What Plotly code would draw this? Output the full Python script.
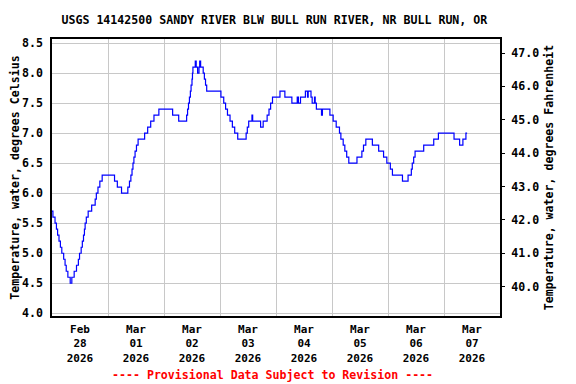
import pandas as pd
import plotly.graph_objects as go

# ---- data ----
start_time = "2026-02-28 00:00"
hours_since_start = [
    0, 0.4, 1.3, 1.9, 2.4, 3.0, 3.6, 4.2, 5.0, 5.6, 6.1, 6.8, 7.8,
    8.5, 9.5, 10.5, 11.3, 11.8, 12.5, 13.0, 13.5, 13.9, 14.2, 14.7, 15.5,
    17.0, 18.5, 19.0, 19.7, 20.5, 21.5, 26.8, 28.0, 29.8, 32.5, 33.2,
    33.8, 34.3, 34.7, 35.1, 35.6, 36.2, 36.9, 39.7, 41.0, 42.3, 43.7,
    45.8, 51.7, 54.3, 57.7, 58.1, 58.5, 58.9, 59.3, 59.6, 60.0, 60.2,
    60.4, 61.4, 61.8, 62.4, 63.0, 63.3, 63.7, 64.8, 65.3, 65.8, 66.3,
    72.4, 73.6, 74.4, 75.2, 76.3, 77.3, 78.3, 79.6, 83.2, 83.7, 84.3,
    85.7, 86.0, 89.4, 90.5, 92.2, 93.0, 93.7, 94.5, 97.7, 99.8, 102.8,
    105.1, 105.6, 106.5, 108.6, 109.5, 109.8, 111.0, 111.5, 112.5, 112.8,
    113.3, 115.5, 115.9, 119.1, 120.5, 121.8, 123.2, 123.8, 124.8, 125.5,
    126.3, 127.2, 130.7, 132.8, 133.5, 134.5, 137.3, 140.0, 142.1, 143.5,
    145.0, 145.9, 150.2, 152.6, 154.0, 154.4, 155.0, 155.6, 156.5, 159.3,
    163.6, 165.6, 172.3, 174.7, 176.1, 177.4, 177.9,
]
temperature_c = [
    5.7, 5.6, 5.5, 5.4, 5.3, 5.2, 5.1, 5.0, 4.9, 4.8, 4.7, 4.6, 4.5,
    4.6, 4.7, 4.8, 4.9, 5.0, 5.1, 5.2, 5.3, 5.4, 5.5, 5.6, 5.7,
    5.8, 5.9, 6.0, 6.1, 6.2, 6.3, 6.2, 6.1, 6.0, 6.1, 6.2,
    6.3, 6.4, 6.5, 6.6, 6.7, 6.8, 6.9, 7.0, 7.1, 7.2, 7.3,
    7.4, 7.3, 7.2, 7.3, 7.4, 7.5, 7.6, 7.7, 7.8, 7.9, 8.0,
    8.1, 8.2, 8.1, 8.0, 8.1, 8.2, 8.1, 8.0, 7.9, 7.8, 7.7,
    7.6, 7.5, 7.4, 7.3, 7.2, 7.1, 7.0, 6.9, 7.0, 7.1, 7.2,
    7.3, 7.2, 7.1, 7.2, 7.3, 7.4, 7.5, 7.6, 7.7, 7.6, 7.5,
    7.6, 7.5, 7.6, 7.7, 7.6, 7.7, 7.6, 7.5, 7.6, 7.5,
    7.4, 7.3, 7.4, 7.3, 7.2, 7.1, 7.0, 6.9, 6.8, 6.7,
    6.6, 6.5, 6.6, 6.7, 6.8, 6.9, 6.8, 6.7, 6.6, 6.5,
    6.4, 6.3, 6.2, 6.3, 6.4, 6.5, 6.6, 6.7, 6.7, 6.8,
    6.9, 7.0, 6.9, 6.8, 6.9, 7.0, 7.0,
]
day_labels = ["Feb<br>28<br>2026", "Mar<br>01<br>2026", "Mar<br>02<br>2026",
              "Mar<br>03<br>2026", "Mar<br>04<br>2026", "Mar<br>05<br>2026",
              "Mar<br>06<br>2026", "Mar<br>07<br>2026"]
celsius_range = [3.955, 8.567]
fahrenheit_ticks = [40, 41, 42, 43, 44, 45, 46, 47]

title_text = "USGS 14142500 SANDY RIVER BLW BULL RUN RIVER, NR BULL RUN, OR"
left_title = "Temperature, water, degrees Celsius"
right_title = "Temperature, water, degrees Fahrenheit"
footer_text = "---- Provisional Data Subject to Revision ----"

# ---- derived ----
t0 = pd.Timestamp(start_time)
times = t0 + pd.to_timedelta(hours_since_start, unit="h")
tick_pos = [t0 + pd.Timedelta(days=i, hours=12) for i in range(len(day_labels))]
x_range = [t0, t0 + pd.Timedelta(days=len(day_labels))]
f_range = [c * 1.8 + 32 for c in celsius_range]
temperature_f = [c * 1.8 + 32 for c in temperature_c]

FONT = "DejaVu Sans Mono"
fnt = dict(family=FONT, size=11.6, color="black", weight="bold")
xfnt = dict(family=FONT, size=11, color="black", weight="bold")

fig = go.Figure()
fig.add_trace(go.Scatter(x=times, y=temperature_c, mode="lines",
                         line=dict(color="#0000ff", width=1.2, shape="hv"),
                         showlegend=False, hoverinfo="skip"))
fig.add_trace(go.Scatter(x=times, y=temperature_f, mode="lines", yaxis="y2",
                         line=dict(color="rgba(0,0,0,0)", width=0, shape="hv"),
                         showlegend=False, hoverinfo="skip"))

# the page adds an 8px body margin, so the figure is 8px smaller and shifted
fig.update_layout(
    width=568, height=376,
    margin=dict(l=44, r=76, t=31, b=68, autoexpand=False),
    paper_bgcolor="white", plot_bgcolor="white",
    font=fnt,
    title=dict(text=title_text, x=0.469, xanchor="center", y=0.967,
               yanchor="middle", yref="container", font=fnt),
    xaxis=dict(
        range=x_range, tickmode="array", tickvals=tick_pos, ticktext=day_labels,
        showgrid=False, ticks="", tickfont=xfnt, ticklabelstandoff=2,
        showline=True, linecolor="black", linewidth=1.5, mirror=True,
        minor=dict(tick0=t0, dtick=86400000, showgrid=True,
                   gridcolor="#c8c8c8", gridwidth=1.3, ticks=""),
        zeroline=False, automargin=False,
    ),
    yaxis=dict(
        range=celsius_range, tickmode="linear", tick0=4.0, dtick=0.5,
        tickformat=".1f", showgrid=True, gridcolor="#c8c8c8", gridwidth=1.3,
        ticks="", ticklabelstandoff=5, tickfont=fnt,
        showline=True, linecolor="black", linewidth=1.5, mirror=True,
        zeroline=False, automargin=False,
        title=dict(text=left_title, font=fnt, standoff=6),
    ),
    yaxis2=dict(
        range=f_range, overlaying="y", side="right", tickmode="array",
        tickvals=fahrenheit_ticks, tickformat=".1f", showgrid=False,
        ticks="outside", ticklen=4, tickcolor="black", tickfont=fnt,
        ticklabelstandoff=4, zeroline=False, automargin=False,
        title=dict(text=right_title, font=fnt, standoff=6),
    ),
    annotations=[dict(text=footer_text, xref="paper", yref="paper",
                      x=0.493, y=-0.213, xanchor="center", yanchor="middle",
                      showarrow=False,
                      font=dict(family=FONT, size=11.6, color="#ff0000",
                                weight="bold"))],
)

fig.write_html("out.html")
